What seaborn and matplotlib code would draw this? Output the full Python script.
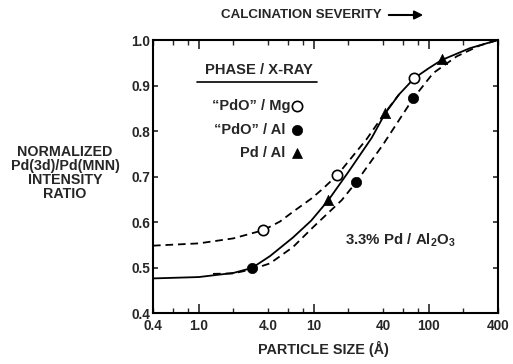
import numpy as np
import pandas as pd
import matplotlib
matplotlib.use("Agg")
import matplotlib.pyplot as plt
from matplotlib.ticker import FixedLocator, FuncFormatter
from matplotlib.lines import Line2D
from matplotlib.patches import FancyArrowPatch
import seaborn as sns

# ---------------- data ----------------
# measured points
pdo_mg_x = [3.64, 16.0, 74.8]
pdo_mg_y = [0.582, 0.703, 0.916]
pdo_al_x = [2.90, 23.3, 73.4]
pdo_al_y = [0.500, 0.687, 0.872]
pd_al_x = [13.4, 41.6, 129.6]
pd_al_y = [0.648, 0.840, 0.958]

# curves
solid_x = [0.4, 1.0, 2.0, 2.9, 4.16, 6.6, 9.5, 13.4, 20, 31.9, 41.6, 55, 74.8, 100, 129.6, 228, 400]
solid_y = [0.476, 0.479, 0.488, 0.499, 0.525, 0.566, 0.603, 0.648, 0.710, 0.785, 0.838, 0.880, 0.916, 0.938, 0.956, 0.982, 1.0]
upper_x = [0.4, 1.0, 2.0, 3.64, 5.08, 6.64, 9.59, 12.1, 16.0, 28.8, 41.6, 55]
upper_y = [0.548, 0.553, 0.564, 0.582, 0.601, 0.623, 0.652, 0.674, 0.703, 0.782, 0.840, 0.880]
lower_x = [1.33, 2.0, 2.9, 4.16, 6.6, 10, 17.5, 23.3, 40, 73.4, 109, 175, 278, 400]
lower_y = [0.486, 0.487, 0.496, 0.509, 0.545, 0.590, 0.648, 0.687, 0.770, 0.872, 0.927, 0.964, 0.988, 1.0]

legend_labels = ["\u201cPdO\u201d / Mg", "\u201cPdO\u201d / Al", "Pd / Al"]
x_label_ticks = [0.4, 1.0, 4.0, 10, 40, 100, 400]
x_label_texts = ["0.4", "1.0", "4.0", "10", "40", "100", "400"]
y_ticks = [0.4, 0.5, 0.6, 0.7, 0.8, 0.9, 1.0]

# ---------------- style ----------------
sns.set_style("white")
plt.rcParams["font.family"] = ["Liberation Sans", "DejaVu Sans"]
plt.rcParams["font.weight"] = "bold"
plt.rcParams["lines.scale_dashes"] = False
plt.rcParams["mathtext.fontset"] = "custom"
plt.rcParams["mathtext.rm"] = "Liberation Sans:bold"
plt.rcParams["mathtext.bf"] = "Liberation Sans:bold"
plt.rcParams["mathtext.it"] = "Liberation Sans:bold"

W, H = 513, 364
fig = plt.figure(figsize=(W / 100, H / 100), dpi=100)
ax = fig.add_axes([153 / W, 1 - 313 / H, 345 / W, 273 / H])

def fx(px):
    return px / W

def fy(py):
    return 1 - py / H

dash = (0, (5.5, 3.5))
lw = 1.3
sns.lineplot(x=solid_x, y=solid_y, ax=ax, color="black", linewidth=lw, sort=False, estimator=None)
sns.lineplot(x=upper_x, y=upper_y, ax=ax, color="black", linewidth=lw, sort=False, estimator=None, linestyle=dash)
sns.lineplot(x=lower_x, y=lower_y, ax=ax, color="black", linewidth=lw, sort=False, estimator=None, linestyle=dash)

ms = 55
sns.scatterplot(x=pdo_mg_x, y=pdo_mg_y, ax=ax, marker="o", s=ms, facecolor="white", edgecolor="black", linewidth=1.2, zorder=5)
sns.scatterplot(x=pdo_al_x, y=pdo_al_y, ax=ax, marker="o", s=ms, color="black", edgecolor="black", linewidth=0.5, zorder=5)
sns.scatterplot(x=pd_al_x, y=pd_al_y, ax=ax, marker="^", s=ms, color="black", edgecolor="black", linewidth=0.5, zorder=5)

ax.set_xscale("log")
ax.set_xlim(0.4, 400)
ax.set_ylim(0.4, 1.0)

ax.xaxis.set_major_locator(FixedLocator([1, 10, 100]))
ax.xaxis.set_minor_locator(FixedLocator([0.4, 0.6, 0.8, 2, 4, 6, 8, 20, 40, 60, 80, 200, 400]))
lab = dict(zip(x_label_ticks, x_label_texts))

def fmt(v, pos):
    for k, t in lab.items():
        if abs(v - k) / k < 1e-6:
            return t
    return ""

ax.xaxis.set_major_formatter(FuncFormatter(fmt))
ax.xaxis.set_minor_formatter(FuncFormatter(fmt))
ax.set_yticks(y_ticks)
ax.set_yticklabels([f"{v:.1f}" for v in y_ticks])

tsize = 9.8
ax.tick_params(axis="x", which="major", direction="in", length=6.5, width=1.2, top=True, bottom=True,
               labelsize=tsize, pad=4.5)
ax.tick_params(axis="x", which="minor", direction="in", length=3.5, width=1.0, top=True, bottom=True,
               labelsize=tsize, pad=4.5)
ax.tick_params(axis="y", which="major", direction="in", length=3.5, width=1.2, left=True, right=True,
               labelsize=tsize, pad=2)
for t in ax.get_xticklabels(which="both") + ax.get_yticklabels():
    t.set_fontweight("bold")
for s in ax.spines.values():
    s.set_linewidth(1.5)
    s.set_color("black")

ax.set_xlabel("")
ax.set_ylabel("")

# axis titles
fig.text(fx(323), fy(349), "PARTICLE SIZE (\u00c5)", ha="center", va="center", fontsize=10.4, fontweight="bold")
fig.text(fx(65), fy(173), "NORMALIZED\nPd(3d)/Pd(MNN)\nINTENSITY\nRATIO", ha="center", va="center",
         fontsize=10.3, fontweight="bold", linespacing=1.03)
fig.text(fx(301), fy(15), "CALCINATION SEVERITY", ha="center", va="center", fontsize=9.6, fontweight="bold")
fig.add_artist(FancyArrowPatch((fx(386), fy(15)), (fx(426), fy(15)),
               transform=fig.transFigure, arrowstyle="-|>,head_length=5,head_width=2.5",
               color="black", lw=1.5, mutation_scale=1))

# legend (manual)
fig.text(fx(258.5), fy(70), "PHASE / X-RAY", ha="center", va="center", fontsize=10.6, fontweight="bold")
fig.add_artist(Line2D([fx(197), fx(317)], [fy(81.5), fy(81.5)], transform=fig.transFigure, color="black", lw=1.2))
leg_y = [106, 129.5, 153]
leg_right = [290, 285, 285]
leg_style = [dict(marker="o", mfc="white", mec="black", mew=1.2),
             dict(marker="o", mfc="black", mec="black", mew=0.5),
             dict(marker="^", mfc="black", mec="black", mew=0.5)]
for label, py, rx, st in zip(legend_labels, leg_y, leg_right, leg_style):
    fig.text(fx(rx), fy(py), label, ha="right", va="center", fontsize=10.5, fontweight="bold")
    fig.add_artist(Line2D([fx(297)], [fy(py)], transform=fig.transFigure, linestyle="none", ms=7.4, **st))

fig.text(fx(345), fy(240), "3.3% Pd / Al$_2$O$_3$", ha="left", va="center", fontsize=10.8, fontweight="bold")

fig.savefig("out.png", dpi=100)
